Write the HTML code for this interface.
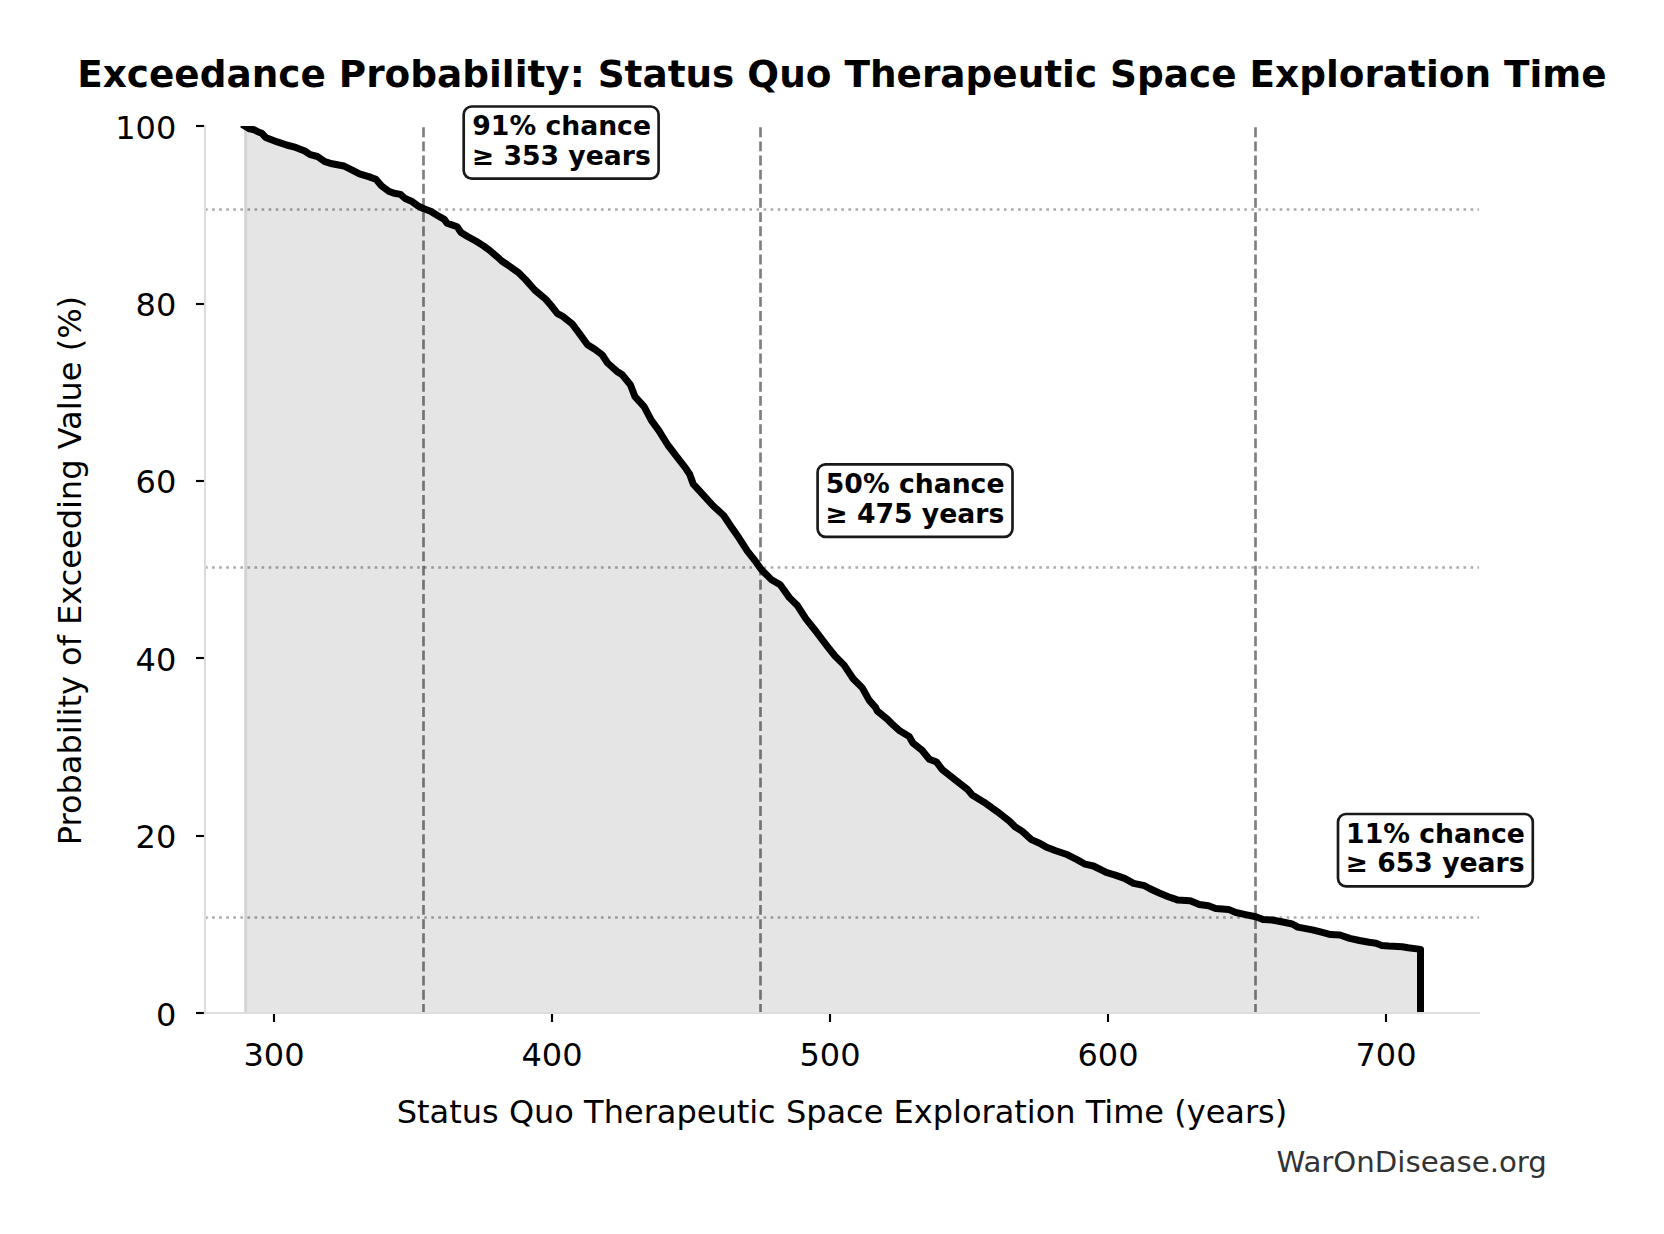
<!DOCTYPE html>
<html><head><meta charset="utf-8"><title>Exceedance Probability</title>
<style>html,body{margin:0;padding:0;background:#fff}svg{display:block}text{font-family:"DejaVu Sans","Liberation Sans",sans-serif;fill:#000}</style>
</head><body>
<svg width="1664" height="1234" viewBox="0 0 1664 1234">
<rect width="1664" height="1234" fill="#fff"/>
<defs><clipPath id="ax"><rect x="205" y="126" width="1274" height="887"/></clipPath></defs>
<g clip-path="url(#ax)">
<path d="M244.2,1013 L244.2,126 L245.0,126.0 L249.7,128.9 L253.9,129.7 L258.3,132.0 L261.9,133.3 L265.6,137.4 L277.4,141.9 L286.5,145.0 L295.7,147.4 L304.8,151.0 L310.2,154.7 L317.5,156.5 L324.8,161.6 L332.1,163.8 L344.0,166.0 L352.2,170.2 L359.5,173.8 L368.6,176.6 L375.9,179.3 L381.4,185.7 L388.7,191.2 L394.1,193.3 L400.5,194.4 L405.1,198.5 L411.5,201.2 L417.9,205.8 L423.3,208.5 L430.6,211.2 L437.9,215.8 L444.3,219.4 L447.0,223.1 L457.1,226.7 L460.7,232.2 L467.1,236.2 L476.2,241.3 L483.5,245.9 L490.8,251.3 L497.2,256.8 L501.7,261.0 L509.0,265.9 L518.2,272.3 L525.5,279.6 L534.7,290.0 L545.6,299.1 L551.1,305.5 L557.5,313.7 L562.9,316.4 L572.0,323.7 L580.2,334.7 L587.5,344.7 L594.8,349.3 L602.1,354.7 L607.6,363.0 L616.7,371.2 L622.2,374.8 L630.4,384.8 L635.0,396.7 L644.1,406.7 L651.4,420.4 L658.7,430.4 L667.8,445.0 L676.9,456.9 L686.0,468.7 L689.7,474.2 L693.3,484.2 L704.3,496.1 L712.8,505.5 L723.7,515.5 L731.0,526.5 L739.2,538.3 L747.4,551.1 L754.7,560.2 L761.1,569.3 L771.1,579.4 L780.2,584.8 L789.4,597.6 L797.6,605.8 L805.8,618.6 L816.7,632.3 L827.7,646.8 L835.0,656.0 L844.1,665.1 L853.2,678.8 L862.3,687.9 L869.1,700.1 L875.5,707.4 L877.3,711.0 L887.4,719.2 L892.8,724.7 L900.1,731.1 L909.2,736.5 L912.9,742.9 L922.0,750.2 L929.3,759.3 L936.6,762.1 L942.1,769.4 L954.8,779.4 L967.6,789.4 L972.2,794.9 L984.0,802.2 L996.8,811.3 L1009.6,821.3 L1015.0,826.8 L1022.3,831.4 L1031.4,839.6 L1039.6,843.2 L1046.0,846.9 L1055.1,850.5 L1066.1,854.2 L1077.0,859.6 L1085.2,864.2 L1093.4,866.0 L1106.2,872.4 L1115.3,875.1 L1124.5,878.4 L1133.6,883.4 L1144.5,885.7 L1150.1,888.8 L1159.2,893.0 L1168.3,896.7 L1177.4,899.9 L1190.2,900.7 L1199.3,904.5 L1208.4,905.8 L1215.7,908.5 L1228.5,909.4 L1235.8,912.5 L1246.7,914.9 L1255.8,916.7 L1263.1,919.5 L1272.3,920.0 L1281.4,921.8 L1292.3,924.0 L1297.8,927.1 L1312.4,929.9 L1321.5,932.2 L1330.6,934.6 L1340.0,935.0 L1349.7,938.4 L1359.5,940.5 L1369.2,942.3 L1376.0,943.2 L1381.8,945.4 L1388.6,946.1 L1402.3,946.8 L1408.1,947.8 L1416.8,948.9 L1420.5,949.5 L1420.5,1013 Z" fill="#000" fill-opacity="0.1"/>
<rect x="244.2" y="126" width="2.9" height="887" fill="#000" fill-opacity="0.076"/>
<line x1="423.5" y1="1013.85" x2="423.5" y2="126" stroke="#000" stroke-opacity="0.5" stroke-width="2.67" stroke-dasharray="9.87 4.27"/><line x1="760.5" y1="1013.85" x2="760.5" y2="126" stroke="#000" stroke-opacity="0.5" stroke-width="2.67" stroke-dasharray="9.87 4.27"/><line x1="1255.5" y1="1013.85" x2="1255.5" y2="126" stroke="#000" stroke-opacity="0.5" stroke-width="2.67" stroke-dasharray="9.87 4.27"/>
<line x1="205" y1="209.5" x2="1479" y2="209.5" stroke="#000" stroke-opacity="0.33" stroke-width="2.67" stroke-dasharray="2.67 4.4"/><line x1="205" y1="567.5" x2="1479" y2="567.5" stroke="#000" stroke-opacity="0.33" stroke-width="2.67" stroke-dasharray="2.67 4.4"/><line x1="205" y1="917.5" x2="1479" y2="917.5" stroke="#000" stroke-opacity="0.33" stroke-width="2.67" stroke-dasharray="2.67 4.4"/>
<path d="M245.0,126.0 L249.7,128.9 L253.9,129.7 L258.3,132.0 L261.9,133.3 L265.6,137.4 L277.4,141.9 L286.5,145.0 L295.7,147.4 L304.8,151.0 L310.2,154.7 L317.5,156.5 L324.8,161.6 L332.1,163.8 L344.0,166.0 L352.2,170.2 L359.5,173.8 L368.6,176.6 L375.9,179.3 L381.4,185.7 L388.7,191.2 L394.1,193.3 L400.5,194.4 L405.1,198.5 L411.5,201.2 L417.9,205.8 L423.3,208.5 L430.6,211.2 L437.9,215.8 L444.3,219.4 L447.0,223.1 L457.1,226.7 L460.7,232.2 L467.1,236.2 L476.2,241.3 L483.5,245.9 L490.8,251.3 L497.2,256.8 L501.7,261.0 L509.0,265.9 L518.2,272.3 L525.5,279.6 L534.7,290.0 L545.6,299.1 L551.1,305.5 L557.5,313.7 L562.9,316.4 L572.0,323.7 L580.2,334.7 L587.5,344.7 L594.8,349.3 L602.1,354.7 L607.6,363.0 L616.7,371.2 L622.2,374.8 L630.4,384.8 L635.0,396.7 L644.1,406.7 L651.4,420.4 L658.7,430.4 L667.8,445.0 L676.9,456.9 L686.0,468.7 L689.7,474.2 L693.3,484.2 L704.3,496.1 L712.8,505.5 L723.7,515.5 L731.0,526.5 L739.2,538.3 L747.4,551.1 L754.7,560.2 L761.1,569.3 L771.1,579.4 L780.2,584.8 L789.4,597.6 L797.6,605.8 L805.8,618.6 L816.7,632.3 L827.7,646.8 L835.0,656.0 L844.1,665.1 L853.2,678.8 L862.3,687.9 L869.1,700.1 L875.5,707.4 L877.3,711.0 L887.4,719.2 L892.8,724.7 L900.1,731.1 L909.2,736.5 L912.9,742.9 L922.0,750.2 L929.3,759.3 L936.6,762.1 L942.1,769.4 L954.8,779.4 L967.6,789.4 L972.2,794.9 L984.0,802.2 L996.8,811.3 L1009.6,821.3 L1015.0,826.8 L1022.3,831.4 L1031.4,839.6 L1039.6,843.2 L1046.0,846.9 L1055.1,850.5 L1066.1,854.2 L1077.0,859.6 L1085.2,864.2 L1093.4,866.0 L1106.2,872.4 L1115.3,875.1 L1124.5,878.4 L1133.6,883.4 L1144.5,885.7 L1150.1,888.8 L1159.2,893.0 L1168.3,896.7 L1177.4,899.9 L1190.2,900.7 L1199.3,904.5 L1208.4,905.8 L1215.7,908.5 L1228.5,909.4 L1235.8,912.5 L1246.7,914.9 L1255.8,916.7 L1263.1,919.5 L1272.3,920.0 L1281.4,921.8 L1292.3,924.0 L1297.8,927.1 L1312.4,929.9 L1321.5,932.2 L1330.6,934.6 L1340.0,935.0 L1349.7,938.4 L1359.5,940.5 L1369.2,942.3 L1376.0,943.2 L1381.8,945.4 L1388.6,946.1 L1402.3,946.8 L1408.1,947.8 L1416.8,948.9 L1420.5,949.5 L1420.5,1018.0" fill="none" stroke="#000" stroke-width="7.0" stroke-linejoin="round" stroke-linecap="square"/>
</g>
<line x1="274" y1="1013" x2="274" y2="1022.0" stroke="#000" stroke-width="2.13"/><text x="274" y="1066" text-anchor="middle" font-size="32">300</text><line x1="552" y1="1013" x2="552" y2="1022.0" stroke="#000" stroke-width="2.13"/><text x="552" y="1066" text-anchor="middle" font-size="32">400</text><line x1="830" y1="1013" x2="830" y2="1022.0" stroke="#000" stroke-width="2.13"/><text x="830" y="1066" text-anchor="middle" font-size="32">500</text><line x1="1108" y1="1013" x2="1108" y2="1022.0" stroke="#000" stroke-width="2.13"/><text x="1108" y="1066" text-anchor="middle" font-size="32">600</text><line x1="1386" y1="1013" x2="1386" y2="1022.0" stroke="#000" stroke-width="2.13"/><text x="1386" y="1066" text-anchor="middle" font-size="32">700</text>
<line x1="205" y1="1013" x2="196.0" y2="1013" stroke="#000" stroke-width="2.13"/><text x="176.3" y="1025.8" text-anchor="end" font-size="32">0</text><line x1="205" y1="836" x2="196.0" y2="836" stroke="#000" stroke-width="2.13"/><text x="176.3" y="848.0" text-anchor="end" font-size="32">20</text><line x1="205" y1="658" x2="196.0" y2="658" stroke="#000" stroke-width="2.13"/><text x="176.3" y="671.0" text-anchor="end" font-size="32">40</text><line x1="205" y1="481" x2="196.0" y2="481" stroke="#000" stroke-width="2.13"/><text x="176.3" y="492.6" text-anchor="end" font-size="32">60</text><line x1="205" y1="304" x2="196.0" y2="304" stroke="#000" stroke-width="2.13"/><text x="176.3" y="316.2" text-anchor="end" font-size="32">80</text><line x1="205" y1="126" x2="196.0" y2="126" stroke="#000" stroke-width="2.13"/><text x="176.3" y="138.8" text-anchor="end" font-size="32">100</text>
<line x1="205" y1="124.93" x2="205" y2="1014.07" stroke="#ddd" stroke-width="2.13"/>
<line x1="203.93" y1="1013" x2="1480.07" y2="1013" stroke="#ddd" stroke-width="2.13"/>
<text x="842" y="1123" text-anchor="middle" font-size="32">Status Quo Therapeutic Space Exploration Time (years)</text>
<text transform="translate(80.5,570.6) rotate(-90)" text-anchor="middle" font-size="32">Probability of Exceeding Value (%)</text>
<text x="841.9" y="87" text-anchor="middle" font-size="37.395" font-weight="bold">Exceedance Probability: Status Quo Therapeutic Space Exploration Time</text>
<text x="1546.8" y="1171.7" text-anchor="end" font-size="29.2" style="fill:#333">WarOnDisease.org</text>
<rect x="463.7" y="106.5" width="194.90000000000003" height="72.1" rx="8" ry="8" fill="#fff" fill-opacity="0.9" stroke="#000" stroke-opacity="0.9" stroke-width="2.67"/><text font-size="26.67" font-weight="bold"><tspan x="472.3" y="135.1">91% chance</tspan><tspan x="471.8" y="164.6">≥ 353 years</tspan></text><rect x="817.6" y="464.3" width="194.89999999999998" height="72.49999999999994" rx="8" ry="8" fill="#fff" fill-opacity="0.9" stroke="#000" stroke-opacity="0.9" stroke-width="2.67"/><text font-size="26.67" font-weight="bold"><tspan x="825.8" y="493.4">50% chance</tspan><tspan x="825.3" y="522.9">≥ 475 years</tspan></text><rect x="1338.0" y="814.0" width="194.79999999999995" height="72.29999999999995" rx="8" ry="8" fill="#fff" fill-opacity="0.9" stroke="#000" stroke-opacity="0.9" stroke-width="2.67"/><text font-size="26.67" font-weight="bold"><tspan x="1346.1" y="842.9">11% chance</tspan><tspan x="1345.6" y="872.4">≥ 653 years</tspan></text>
</svg>
</body></html>
